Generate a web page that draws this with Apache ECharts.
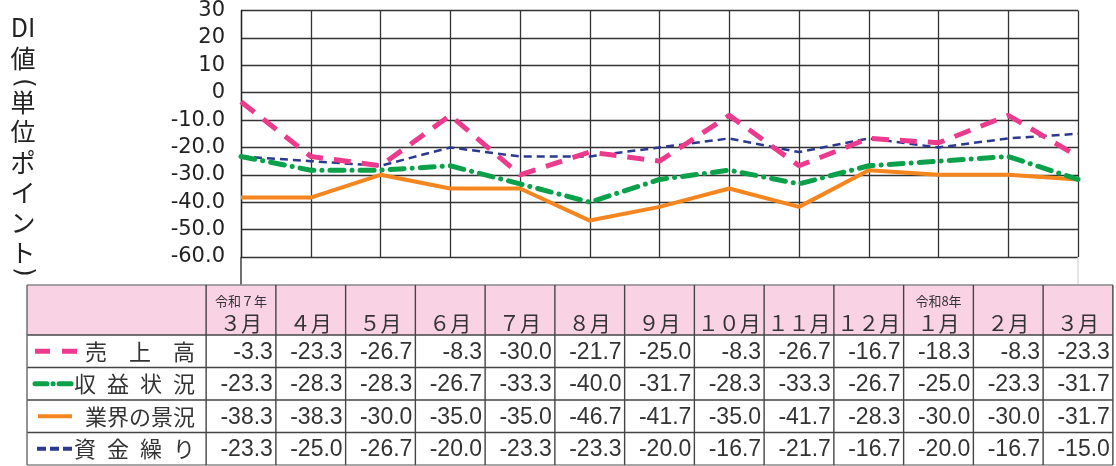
<!DOCTYPE html>
<html>
<head>
<meta charset="utf-8">
<script src="https://cdn.jsdelivr.net/npm/echarts@6/dist/echarts.min.js"></script>
<style>
  html, body { margin: 0; padding: 0; background: #fff; }
  #main { width: 1116px; height: 466px; }
</style>
</head>
<body>
<div id="main"></div>
<script>
// months (header row of the table) and the era note above some months
var months = ['３月', '４月', '５月', '６月', '７月', '８月', '９月', '１０月', '１１月', '１２月', '１月', '２月', '３月'];
var yearNotes = ['令和７年', '', '', '', '', '', '', '', '', '', '令和8年', '', ''];

// DI values
var sales    = [-3.3, -23.3, -26.7, -8.3, -30.0, -21.7, -25.0, -8.3, -26.7, -16.7, -18.3, -8.3, -23.3];
var profit   = [-23.3, -28.3, -28.3, -26.7, -33.3, -40.0, -31.7, -28.3, -33.3, -26.7, -25.0, -23.3, -31.7];
var business = [-38.3, -38.3, -30.0, -35.0, -35.0, -46.7, -41.7, -35.0, -41.7, -28.3, -30.0, -30.0, -31.7];
var cash     = [-23.3, -25.0, -26.7, -20.0, -23.3, -23.3, -20.0, -16.7, -21.7, -16.7, -20.0, -16.7, -15.0];

var seriesNames = ['売　上　高', '収\u2002益\u2002状\u2002況', '業界の景況', '資\u2002金\u2002繰\u2002り'];
var seriesData = [sales, profit, business, cash];

// vertical axis title, one glyph per step (parentheses are turned sideways)
var yTitle = ['DI', '値', '(', '単', '位', 'ポ', 'イ', 'ン', 'ト', ')'];
var yTitlePos = [27, 58, 83, 102, 131, 162, 192, 222, 252, 272];

var styles = [
  { color: '#EC3A8C', width: 5, type: [17, 11], cap: 'butt' },
  { color: '#0BA04A', width: 5, type: [14, 8, 0.1, 8], cap: 'round' },
  { color: '#F5861F', width: 4, type: 'solid', cap: 'butt' },
  { color: '#2B3990', width: 2.5, type: [8, 5], cap: 'butt' }
];

var myChart = echarts.init(document.getElementById('main'));

var option = {
  animation: false,
  grid: { left: 241, right: 38, top: 10, bottom: 209 },
  xAxis: {
    type: 'category',
    data: months,
    boundaryGap: false,
    axisLine: { show: false },
    axisTick: { show: false },
    axisLabel: { show: false },
    splitLine: { show: true, lineStyle: { color: '#333', width: 1.3 } }
  },
  yAxis: {
    type: 'value',
    min: -60,
    max: 30,
    interval: 10,
    axisLine: { show: true, lineStyle: { color: '#222', width: 1.3 } },
    axisTick: { show: false },
    axisLabel: {
      margin: 16,
      color: '#222',
      fontFamily: 'DejaVu Sans',
      fontSize: 21,
      formatter: function (v) { return v >= 0 ? String(v) : v.toFixed(1); }
    },
    splitLine: { lineStyle: { color: '#333', width: 1.3 } }
  },
  series: seriesData.map(function (d, i) {
    return {
      name: seriesNames[i],
      type: 'line',
      data: d,
      symbol: 'none',
      z: 10 - i,
      lineStyle: {
        color: styles[i].color,
        width: styles[i].width,
        type: styles[i].type,
        cap: styles[i].cap
      }
    };
  })
};
myChart.setOption(option);

// table under the plot, aligned to the category positions
function buildTable() {
  var els = [];
  var xs = months.map(function (m, i) { return myChart.convertToPixel({ xAxisIndex: 0 }, i); });
  var step = xs[1] - xs[0];
  var tLeft = 27;
  var colStart = xs[0] - step / 2;
  var tRight = xs[xs.length - 1] + step / 2;
  var yTop = 285, yHead = 335, rowH = 32.5;
  var yBottom = yHead + rowH * 4;
  var plotBottom = myChart.convertToPixel({ yAxisIndex: 0 }, -60);

  // axis line running down to the table
  els.push({ type: 'line', shape: { x1: xs[0], y1: plotBottom, x2: xs[0], y2: yTop }, style: { stroke: '#222', lineWidth: 1.3 } });
  els.push({ type: 'line', shape: { x1: xs[12], y1: plotBottom, x2: xs[12], y2: yTop }, style: { stroke: '#ccc', lineWidth: 1 } });

  // header background
  els.push({ type: 'rect', shape: { x: tLeft, y: yTop, width: tRight - tLeft, height: yHead - yTop }, style: { fill: '#F9D3E4', stroke: null } });

  // horizontal lines
  var hy = [yTop, yHead];
  for (var r = 1; r <= 4; r++) hy.push(yHead + rowH * r);
  hy.forEach(function (y, i) {
    els.push({ type: 'line', shape: { x1: tLeft, y1: y, x2: tRight, y2: y },
      style: { stroke: (i === 0 || i === hy.length - 1) ? '#888' : '#444', lineWidth: 1.4 } });
  });
  // vertical lines
  els.push({ type: 'line', shape: { x1: tLeft, y1: yTop, x2: tLeft, y2: yBottom }, style: { stroke: '#666', lineWidth: 1.4 } });
  for (var c = 0; c <= months.length; c++) {
    var x = colStart + step * c;
    els.push({ type: 'line', shape: { x1: x, y1: yTop, x2: x, y2: yBottom }, style: { stroke: '#444', lineWidth: 1.4 } });
  }

  // header texts
  months.forEach(function (m, i) {
    els.push({ type: 'text', x: xs[i], y: 323, style: { text: m, fill: '#333', font: '21px "Noto Sans CJK JP"', textAlign: 'center', textVerticalAlign: 'middle' } });
    if (yearNotes[i]) {
      els.push({ type: 'text', x: xs[i], y: 301, style: { text: yearNotes[i], fill: '#333', font: '13px "Noto Sans CJK JP"', textAlign: 'center', textVerticalAlign: 'middle' } });
    }
  });

  // rows
  var icons = [
    { x: [35, 77], w: 5, dash: [15, 12], cap: 'butt' },
    { x: [35, 72], w: 5, dash: [12, 6, 0.1, 6], cap: 'round' },
    { x: [38, 72], w: 4, dash: null, cap: 'butt' },
    { x: [37, 75], w: 4, dash: [9, 4], cap: 'butt' }
  ];
  seriesData.forEach(function (d, r) {
    var cy = yHead + rowH * r + rowH / 2;
    var ic = icons[r];
    els.push({ type: 'line', shape: { x1: ic.x[0], y1: cy, x2: ic.x[1], y2: cy },
      style: { stroke: styles[r].color, lineWidth: ic.w, lineDash: ic.dash, lineCap: ic.cap } });
    els.push({ type: 'text', x: 195, y: cy, style: { text: seriesNames[r], fill: '#333', font: '22px "Noto Sans CJK JP"', textAlign: 'right', textVerticalAlign: 'middle' } });
    d.forEach(function (v, i) {
      els.push({ type: 'text', x: xs[i] + step / 2 - 3, y: cy + 1, style: { text: v.toFixed(1), fill: '#333', font: '23px "Liberation Sans"', textAlign: 'right', textVerticalAlign: 'middle' } });
    });
  });

  // vertical y-axis title
  yTitle.forEach(function (t, i) {
    var paren = (t === '(' || t === ')');
    els.push({ type: 'text', x: 23, y: yTitlePos[i], rotation: paren ? -Math.PI / 2 : 0,
      style: { text: t, fill: '#222', font: paren ? '24px "DejaVu Sans"' : '25px "Noto Sans CJK JP"', textAlign: 'center', textVerticalAlign: 'middle' } });
  });

  myChart.setOption({ graphic: els.map(function (e) { e.silent = true; return e; }) });
}
buildTable();
</script>
</body>
</html>
